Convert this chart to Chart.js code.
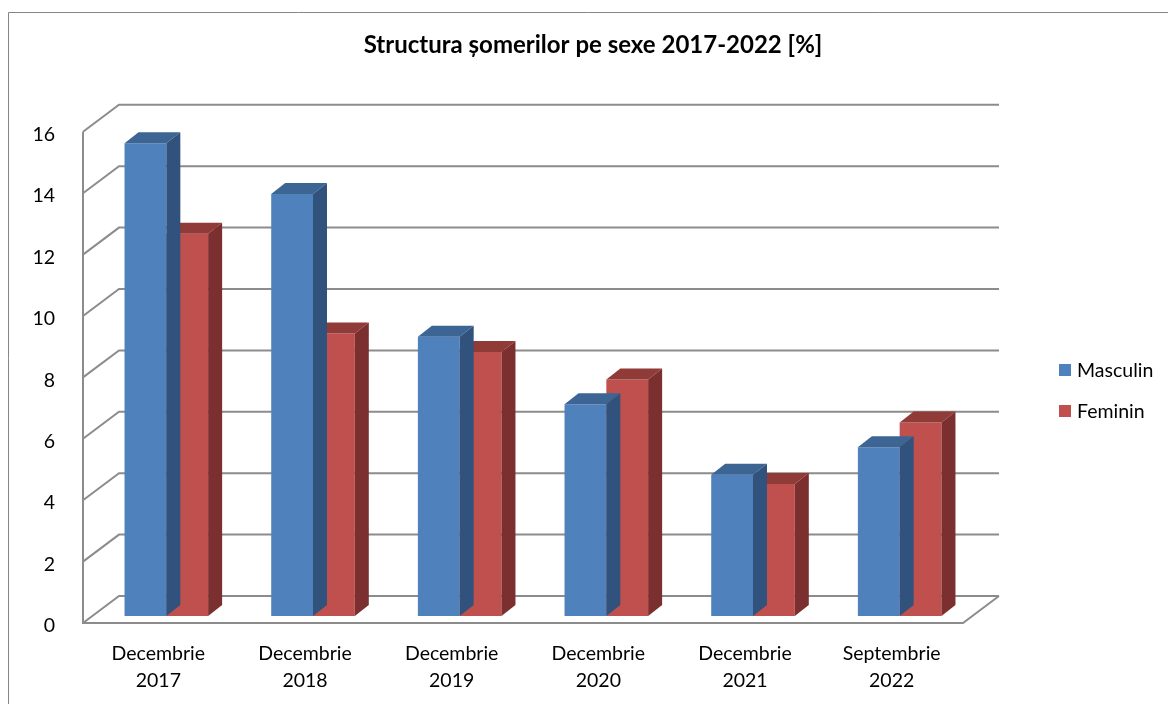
<!DOCTYPE html>
<html lang="ro">
<head>
<meta charset="utf-8">
<title>Structura șomerilor pe sexe 2017-2022</title>
<script src="https://cdn.jsdelivr.net/npm/chart.js@4/dist/chart.umd.min.js"></script>
<style>
  html, body { margin: 0; padding: 0; background: #fff; }
  #wrap { width: 1168px; height: 704px; }
</style>
</head>
<body>
<div id="wrap"><canvas id="somajChart" width="1168" height="704"></canvas></div>
<script>
// date
const categorii = [
    ['Decembrie', '2017'],
    ['Decembrie', '2018'],
    ['Decembrie', '2019'],
    ['Decembrie', '2020'],
    ['Decembrie', '2021'],
    ['Septembrie', '2022']
];
const masculin = [15.4, 13.75, 9.1, 6.9, 4.6, 5.5];
const feminin = [12.45, 9.2, 8.6, 7.7, 4.3, 6.3];
const yTicks = [0, 2, 4, 6, 8, 10, 12, 14, 16];

// culori (fata, sus, lateral)
const culori = [
    { fata: '#4f81bd', sus: '#3c6594', lateral: '#30527c' },
    { fata: '#c0504d', sus: '#913b39', lateral: '#7b2f2e' }
];

// adancimea 3D
const FRONT = { dx: -10, dy: 7 };   // planul din fata fata de planul barelor
const BACK = { dx: 26, dy: -20 };   // peretele din spate
const BAR_D = { dx: 14, dy: -11 };  // adancimea unei bare
const FONT = 'Lato, "Open Sans", sans-serif';

const pereti3D = {
    id: 'pereti3D',
    beforeDraw(chart) {
        const ctx = chart.ctx;
        ctx.save();
        ctx.strokeStyle = '#868686';
        ctx.lineWidth = 1;
        ctx.beginPath();
        ctx.moveTo(8.5, 720);
        ctx.lineTo(8.5, 12.5);
        ctx.lineTo(1180, 12.5);
        ctx.stroke();
        ctx.restore();
    },
    beforeDatasetsDraw(chart) {
        const ctx = chart.ctx;
        const area = chart.chartArea;
        const y = chart.scales.y;
        ctx.save();
        ctx.strokeStyle = '#8c8c8c';
        ctx.lineWidth = 2;
        // grila pe peretele lateral si cel din spate
        yTicks.forEach(v => {
            const py = y.getPixelForValue(v);
            ctx.beginPath();
            ctx.moveTo(area.left + FRONT.dx, py + FRONT.dy);
            ctx.lineTo(area.left + BACK.dx, py + BACK.dy);
            ctx.lineTo(area.right + BACK.dx, py + BACK.dy);
            ctx.stroke();
        });
        // axa verticala din fata
        const top = y.getPixelForValue(16), bot = y.getPixelForValue(0);
        ctx.beginPath();
        ctx.moveTo(area.left + FRONT.dx, top + FRONT.dy);
        ctx.lineTo(area.left + FRONT.dx, bot + FRONT.dy);
        // podeaua
        ctx.lineTo(area.right + FRONT.dx, bot + FRONT.dy);
        ctx.lineTo(area.right + BACK.dx, bot + BACK.dy);
        ctx.stroke();
        ctx.restore();
    },
    afterDatasetDraw(chart, args) {
        const ctx = chart.ctx;
        const c = culori[args.index];
        ctx.save();
        args.meta.data.forEach(bar => {
            const p = bar.getProps(['x', 'y', 'base', 'width'], true);
            const x0 = p.x - p.width / 2, x1 = p.x + p.width / 2;
            // fata de sus
            ctx.fillStyle = c.sus;
            ctx.beginPath();
            ctx.moveTo(x0, p.y);
            ctx.lineTo(x1, p.y);
            ctx.lineTo(x1 + BAR_D.dx, p.y + BAR_D.dy);
            ctx.lineTo(x0 + BAR_D.dx, p.y + BAR_D.dy);
            ctx.closePath();
            ctx.fill();
            // fata laterala
            ctx.fillStyle = c.lateral;
            ctx.beginPath();
            ctx.moveTo(x1, p.y);
            ctx.lineTo(x1 + BAR_D.dx, p.y + BAR_D.dy);
            ctx.lineTo(x1 + BAR_D.dx, p.base + BAR_D.dy);
            ctx.lineTo(x1, p.base);
            ctx.closePath();
            ctx.fill();
        });
        ctx.restore();
    },
    afterDraw(chart) {
        // legenda
        const ctx = chart.ctx;
        const area = chart.chartArea;
        const lx = area.right + 86;
        const ly = [370, 411];
        ctx.save();
        ctx.font = '19.5px ' + FONT;
        ctx.textBaseline = 'middle';
        chart.data.datasets.forEach((ds, i) => {
            ctx.fillStyle = ds.backgroundColor;
            ctx.fillRect(lx, ly[i] - 6, 12, 12);
            ctx.fillStyle = '#000';
            ctx.fillText(ds.label, lx + 18, ly[i] + 1);
        });
        ctx.restore();
    }
};

new Chart(document.getElementById('somajChart'), {
    type: 'bar',
    data: {
        labels: categorii,
        datasets: [
            { label: 'Masculin', data: masculin, backgroundColor: culori[0].fata },
            { label: 'Feminin', data: feminin, backgroundColor: culori[1].fata }
        ]
    },
    options: {
        responsive: false,
        animation: false,
        layout: { padding: { left: 18, right: 0, top: 0, bottom: 0 } },
        datasets: {
            bar: { categoryPercentage: 0.57, barPercentage: 1, borderWidth: 0 }
        },
        scales: {
            x: {
                grid: { display: false },
                border: { display: false },
                ticks: {
                    color: '#000',
                    font: { family: FONT, size: 19.5, lineHeight: 1.35 },
                    padding: 17,
                    labelOffset: -8,
                    maxRotation: 0
                },
                afterFit(scale) { scale.height = 88; }
            },
            y: {
                min: 0,
                max: 16,
                grid: { display: false },
                border: { display: false },
                ticks: {
                    stepSize: 2,
                    color: '#000',
                    font: { family: FONT, size: 19.5 },
                    padding: 30,
                    labelOffset: 10
                },
                afterFit(scale) { scale.width = 75; }
            },
            // spatiu rezervat pentru legenda
            legendaSpatiu: {
                type: 'linear',
                position: 'right',
                min: 0,
                max: 1,
                grid: { display: false },
                border: { display: false },
                ticks: { display: false },
                afterFit(scale) { scale.width = 195; }
            }
        },
        plugins: {
            legend: { display: false },
            tooltip: { enabled: false },
            title: {
                display: true,
                text: 'Structura șomerilor pe sexe 2017-2022 [%]',
                color: '#000',
                font: { family: FONT, size: 24, weight: 'bold', lineHeight: 1.2 },
                padding: { top: 31, bottom: 65 }
            }
        }
    },
    plugins: [pereti3D]
});
</script>
</body>
</html>
